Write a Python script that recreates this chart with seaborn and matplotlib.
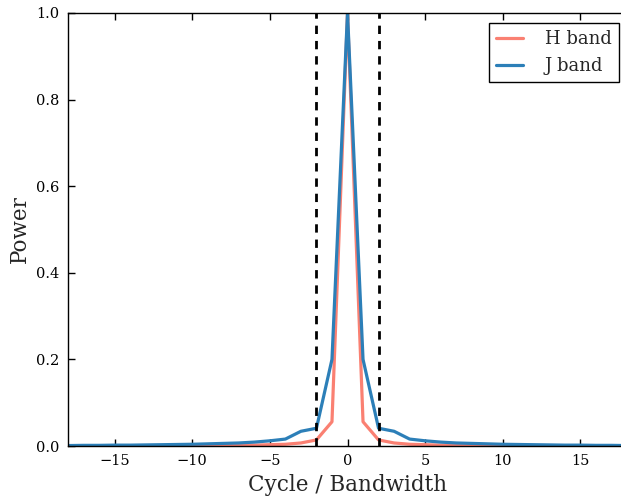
import pandas as pd
import matplotlib
matplotlib.use('Agg')
import matplotlib.pyplot as plt
import seaborn as sns

# Données (pas de 1, de -18 à 18)
cycles = list(range(-18, 19))
h_band = [0.0008, 0.0008, 0.0008, 0.0008, 0.0009, 0.001, 0.001, 0.001, 0.0011,
          0.0012, 0.0013, 0.0015, 0.002, 0.003, 0.004, 0.007, 0.014, 0.056, 1.0,
          0.056, 0.014, 0.007, 0.004, 0.003, 0.002, 0.0015, 0.0013, 0.0012,
          0.0011, 0.001, 0.001, 0.001, 0.0009, 0.0008, 0.0008, 0.0008, 0.0008]
j_band = [0.001, 0.0015, 0.0015, 0.002, 0.002, 0.0025, 0.003, 0.0035, 0.004,
          0.005, 0.006, 0.007, 0.009, 0.012, 0.016, 0.034, 0.041, 0.2, 1.0,
          0.2, 0.041, 0.034, 0.016, 0.012, 0.009, 0.007, 0.006, 0.005, 0.004,
          0.0035, 0.003, 0.0025, 0.002, 0.002, 0.0015, 0.0015, 0.001]
band_labels = ['H band', 'J band']
band_colors = ['#fa8072', '#2c7fb8']
cutoffs = [-2, 2]

df = pd.concat([
    pd.DataFrame({'cycle': cycles, 'power': h_band, 'band': 'H band'}),
    pd.DataFrame({'cycle': cycles, 'power': j_band, 'band': 'J band'}),
])

sns.set_style("ticks")
plt.rcParams['font.family'] = ['DejaVu Serif']
plt.rcParams['xtick.direction'] = 'in'
plt.rcParams['ytick.direction'] = 'in'
plt.rcParams['xtick.top'] = True
plt.rcParams['ytick.right'] = False

fig = plt.figure(figsize=(6.21, 4.97), dpi=100)
ax = fig.add_axes([68 / 621, 51 / 497, 559 / 621, 433 / 497])

sns.lineplot(data=df, x='cycle', y='power', hue='band',
             palette=dict(zip(band_labels, band_colors)), linewidth=2.3,
             ax=ax, legend=False)

for c in cutoffs:
    ax.axvline(c, color='black', linestyle='--', linewidth=2, dashes=(3, 2.5))

ax.set_xlim(-18, 18)
ax.set_ylim(0, 1.0)
ax.set_xticks([-15, -10, -5, 0, 5, 10, 15])
ax.set_xticklabels(['\u221215', '\u221210', '\u22125', '0', '5', '10', '15'])
ax.set_yticks([0, 0.2, 0.4, 0.6, 0.8, 1.0])
ax.set_yticklabels(['0.0', '0.2', '0.4', '0.6', '0.8', '1.0'])
ax.tick_params(labelsize=10.5, length=5, width=1, colors='black', pad=6)
for s in ax.spines.values():
    s.set_color('black')
    s.set_linewidth(1)

ax.set_xlabel('Cycle / Bandwidth', fontsize=15.5)
ax.set_ylabel('Power', fontsize=15.5)

handles = [plt.Line2D([], [], color=c, linewidth=2.3) for c in band_colors]
leg = ax.legend(handles, band_labels, loc='upper right',
                bbox_to_anchor=(619 / 621, 474 / 497), bbox_transform=fig.transFigure,
                borderaxespad=0, fontsize=13, fancybox=False, framealpha=1,
                edgecolor='black', handlelength=1.5, handletextpad=1.2)
leg.get_frame().set_linewidth(1)

plt.savefig('out.png', dpi=100)
plt.close()
